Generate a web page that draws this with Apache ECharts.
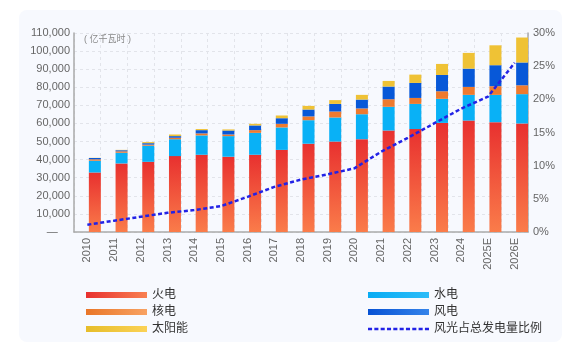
<!DOCTYPE html>
<html>
<head>
<meta charset="utf-8">
<script src="https://cdn.jsdelivr.net/npm/echarts@6/dist/echarts.min.js"></script>
<style>
  html, body { margin: 0; padding: 0; background: #ffffff; }
  #card { position: absolute; left: 19px; top: 10px; width: 543px; height: 332px; background: #f7f9fe; border-radius: 8px; }
  #graph { position: absolute; left: 0; top: 0; width: 569px; height: 350px; }
</style>
</head>
<body>
<div id="card"></div>
<div id="graph"></div>
<script>
var years = ['2010', '2011', '2012', '2013', '2014', '2015', '2016', '2017', '2018',
  '2019', '2020', '2021', '2022', '2023', '2024', '2025E', '2026E'];
// 亿千瓦时
var thermal = [32900, 37900, 38800, 41950, 42700, 41600, 42700, 45400, 48800,
  50000, 51300, 56100, 56900, 60300, 61600, 60700, 60000];
var hydro = [6500, 5900, 8900, 9350, 10700, 11400, 12100, 12400, 13000,
  13300, 13800, 13100, 13900, 13300, 14200, 15100, 16200];
var nuclear = [800, 800, 600, 800, 1100, 900, 1500, 2000, 2100,
  3300, 3200, 4200, 3300, 4200, 4400, 4800, 4900];
var wind = [700, 600, 800, 900, 1800, 2200, 2600, 3100, 3800,
  4200, 4900, 7000, 8300, 9000, 10100, 11600, 12600];
var solar = [100, 200, 600, 900, 600, 600, 900, 1500, 2000,
  2100, 2600, 3100, 4600, 6100, 8700, 11000, 13800];
// 风光占总发电量比例 (%)
var windSolarShare = [1.1, 1.7, 2.3, 2.9, 3.3, 3.9, 5.3, 6.8, 7.9,
  8.7, 9.6, 12.1, 14.2, 16.4, 18.6, 20.4, 25.5];

var chart = echarts.init(document.getElementById('graph'));
var font = "'Liberation Sans', 'Noto Sans CJK SC', sans-serif";

var vgrad = (top, bottom) => new echarts.graphic.LinearGradient(0, 0, 0, 1, [
  { offset: 0, color: top }, { offset: 1, color: bottom }]);
var hgrad = (left, right) => new echarts.graphic.LinearGradient(0, 0, 1, 0, [
  { offset: 0, color: left }, { offset: 1, color: right }]);

var barSeries = (name, data, color) => ({
  name,
  type: 'bar',
  stack: 'power',
  data,
  barWidth: 12,
  barGap: '25%',
  itemStyle: { color },
});

var lineColor = '#2222e6';

// 图例里的虚线图标（不带圆点）
var dashIcon = 'path://';
for (var i = 0; i < 10; i++) {
  dashIcon += 'M' + (i * 6.2) + ',0h4v2.5h-4Z';
}

var legendBase = {
  top: 283, orient: 'vertical',
  itemWidth: 61, itemHeight: 6, itemGap: 3, itemTextGap: 8,
  textStyle: { fontSize: 12, color: '#333', lineHeight: 14 },
};

var option = {
  animation: false,
  textStyle: { fontFamily: font },
  grid: { left: 74, right: 41, top: 33, bottom: 118 },
  graphic: [{
    type: 'text', left: 84, top: 35,
    style: { text: '( 亿千瓦时 )', fontSize: 9, fill: '#888', fontFamily: font },
  }],
  legend: [
    Object.assign({}, legendBase, {
      left: 81,
      data: [
        { name: '火电', icon: 'rect', itemStyle: { color: hgrad('#e8302f', '#f98050') } },
        { name: '核电', icon: 'rect', itemStyle: { color: hgrad('#e97628', '#f8a262') } },
        { name: '太阳能', icon: 'rect', itemStyle: { color: hgrad('#e6bd2a', '#fbd256') } },
      ],
    }),
    Object.assign({}, legendBase, {
      left: 363,
      data: [
        { name: '水电', icon: 'rect', itemStyle: { color: hgrad('#08acf4', '#2cbcf8') } },
        { name: '风电', icon: 'rect', itemStyle: { color: hgrad('#0752d4', '#3584ea') } },
        { name: '风光占总发电量比例', icon: dashIcon, itemStyle: { color: lineColor } },
      ],
    }),
  ],
  xAxis: {
    type: 'category',
    data: years,
    axisLine: { lineStyle: { color: '#aaa', width: 1.5 } },
    axisTick: { show: false },
    axisLabel: { rotate: 90, fontSize: 11, color: '#666', margin: 6 },
    splitLine: { show: true, lineStyle: { color: '#e2e4ea', type: [3, 3] } },
  },
  yAxis: [
    {
      type: 'value', min: 0, max: 110000, interval: 10000,
      axisLine: { show: true, lineStyle: { color: '#aaa', width: 1.5 } },
      axisTick: { show: false },
      axisLabel: {
        fontSize: 11, color: '#666', margin: 4,
        formatter: v => v === 0 ? '—    ' : v.toLocaleString('en-US'),
      },
      splitLine: { lineStyle: { color: '#e2e4ea', type: [3, 3] } },
    },
    {
      type: 'value', min: 0, max: 30, interval: 5,
      axisLine: { show: true, lineStyle: { color: '#aaa', width: 1.5 } },
      axisTick: { show: false },
      axisLabel: { fontSize: 11, color: '#666', margin: 5, formatter: '{value}%' },
      splitLine: { show: false },
    },
  ],
  series: [
    // 占位柱，使堆叠柱偏向类目右侧
    { name: 'placeholder', type: 'bar', stack: 'blank', data: years.map(() => 0),
      barWidth: 12, barGap: '25%', itemStyle: { color: 'transparent' } },
    barSeries('火电', thermal, vgrad('#e8302f', '#fa7c4a')),
    barSeries('水电', hydro, '#09b1f6'),
    barSeries('核电', nuclear, '#ee7a2e'),
    barSeries('风电', wind, '#0758d8'),
    barSeries('太阳能', solar, '#efc235'),
    {
      name: '风光占总发电量比例',
      type: 'line',
      yAxisIndex: 1,
      data: windSolarShare,
      symbol: 'none',
      itemStyle: { color: lineColor },
      lineStyle: { color: lineColor, width: 2.5, type: [4, 2.5] },
      z: 5,
    },
  ],
};

chart.setOption(option);
</script>
</body>
</html>
